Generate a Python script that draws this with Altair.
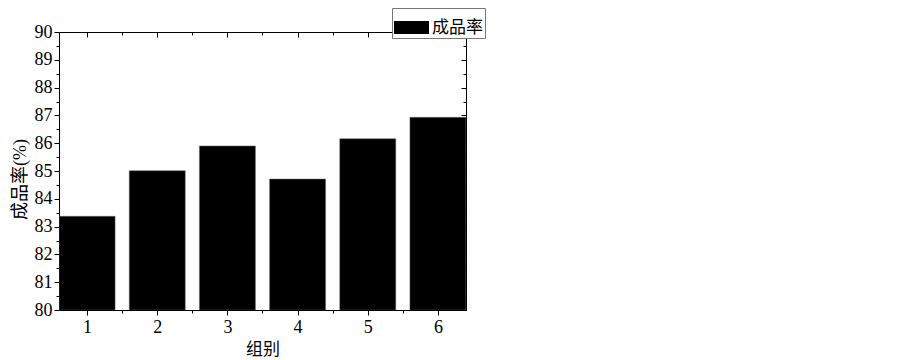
import altair as alt
import pandas as pd

groups = [1, 2, 3, 4, 5, 6]
rates = [83.37, 85.01, 85.90, 84.71, 86.16, 86.93]
series_name = "成品率"
x_title = "组别"
y_title = "成品率(%)"
x_ticks = [1, 1.5, 2, 2.5, 3, 3.5, 4, 4.5, 5, 5.5, 6]
y_ticks = [80 + 0.5 * i for i in range(21)]

df = pd.DataFrame({"group": groups, "rate": rates, "series": [series_name] * len(groups)})

W, H = 407, 278
serif = "Liberation Serif"
cjk = "Liberation Serif, Noto Sans CJK SC"

xscale = alt.Scale(domain=[0.6, 6.4], nice=False, zero=False, padding=0)
yscale = alt.Scale(domain=[80, 90], nice=False, zero=False, padding=0)

minor = "datum.value % 1 != 0"
lab = "datum.value % 1 == 0 ? format(datum.value, 'd') : ''"

x_axis = alt.Axis(
    values=x_ticks, labelExpr=lab,
    tickSize=alt.condition(minor, alt.value(3), alt.value(5)),
    labelFont=serif, labelFontSize=18, labelColor="black", labelPadding=3,
    title=x_title, titleFont=cjk, titleFontSize=17, titleFontWeight="normal",
    titleColor="black", titlePadding=5, domainColor="black", tickColor="black",
    grid=False, labelAngle=0,
)
y_axis = alt.Axis(
    values=y_ticks, labelExpr=lab,
    tickSize=alt.condition(minor, alt.value(3), alt.value(5)),
    labelFont=serif, labelFontSize=18, labelColor="black", labelPadding=2,
    title=y_title, titleFont=cjk, titleFontSize=18, titleFontWeight="normal",
    titleColor="black", titlePadding=5, titleY=147, domainColor="black", tickColor="black",
    grid=False,
)

bars = alt.Chart(df).mark_bar(size=56, color="black", stroke="#666", strokeWidth=0.5, clip=True).encode(
    x=alt.X("group:Q", scale=xscale, axis=x_axis),
    y=alt.Y("rate:Q", scale=yscale, axis=y_axis),
    y2=alt.datum(80),
    color=alt.Color(
        "series:N",
        scale=alt.Scale(domain=[series_name], range=["black"]),
        legend=alt.Legend(
            title=None, orient="none", legendX=333, legendY=-24,
            symbolType="M-1,-0.37L1,-0.37L1,0.37L-1,0.37Z", symbolSize=1225,
            symbolStrokeWidth=0, symbolFillColor="black",
            labelFont=cjk, labelFontSize=17, labelColor="black",
            strokeColor="#777", padding=2, labelOffset=3, fillColor="white",
        ),
    ),
)

mirror_x = alt.Axis(
    values=x_ticks, labels=False, title=None, orient="bottom", offset=-H,
    tickSize=alt.condition(minor, alt.value(3), alt.value(5)),
    domainColor="black", tickColor="black", grid=False,
)
mirror_y = alt.Axis(
    values=y_ticks, labels=False, title=None, orient="left", offset=-W,
    tickSize=alt.condition(minor, alt.value(3), alt.value(5)),
    domainColor="black", tickColor="black", grid=False,
)

ghost = alt.Chart(df).mark_point(opacity=0).encode(
    x=alt.X("group:Q", scale=xscale, axis=mirror_x),
    y=alt.Y("rate:Q", scale=yscale, axis=mirror_y),
)

chart = alt.layer(bars, ghost).resolve_scale(
    x="independent", y="independent"
).properties(
    width=W, height=H,
    autosize=alt.AutoSizeParams(type="none"),
    padding={"left": 51, "top": 24, "right": 420, "bottom": 60},
).configure_view(stroke=None).configure(background="white")

chart.save("out.html", embed_options={"renderer": "svg", "actions": False})
